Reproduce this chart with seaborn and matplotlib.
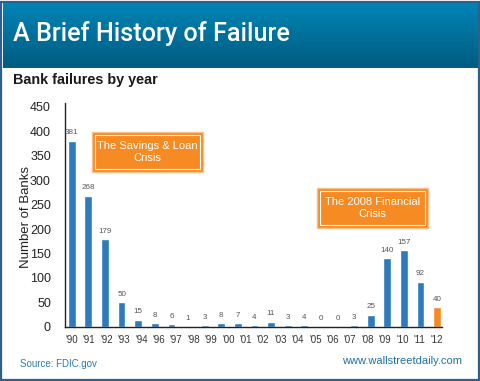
import numpy as np
import pandas as pd
import matplotlib.pyplot as plt
import seaborn as sns
from matplotlib.patches import Rectangle

# Data (FDIC bank failures, 1990-2012)
years = [str(y) for y in range(1990, 2013)]
failures = [381, 268, 179, 50, 15, 8, 6, 1, 3, 8, 7, 4, 11, 3, 4, 0, 0, 3, 25, 140, 157, 92, 40]
# the source chart's axis labels skip '95, so 22 labels sit under 23 bars
tick_labels = ["'90", "'91", "'92", "'93", "'94", "'96", "'97", "'98", "'99", "'00", "'01",
               "'02", "'03", "'04", "'05", "'06", "'07", "'08", "'09", "'10", "'11", "'12"]
bar_group = ['past'] * 22 + ['ytd']

BLUE = '#2d7bbd'
ORANGE = '#f58b22'

df = pd.DataFrame({'year': years, 'failures': failures, 'group': bar_group})

sns.set_style('white')
plt.rcParams['font.family'] = ['Liberation Sans', 'DejaVu Sans']

fig = plt.figure(figsize=(4.8, 3.81), dpi=100)

# header banner with vertical gradient
bax = fig.add_axes([0.006, 0.822, 0.988, 0.170])
grad = np.linspace(0, 1, 100).reshape(-1, 1)
top = np.array([0, 132, 182]) / 255
bot = np.array([0, 92, 128]) / 255
img = top + (bot - top) * grad[..., None]
bax.imshow(img, aspect='auto', extent=[0, 1, 0, 1], origin='upper')
bax.set_axis_off()
fig.text(0.027, 0.911, 'A Brief History of Failure', color='white', fontsize=18.2,
         fontweight='medium', family=['Roboto', 'DejaVu Sans'], va='center', ha='left')
fig.text(0.027, 0.789, 'Bank failures by year', color='#1a1a1a', fontsize=10.4,
         fontweight='bold', va='center', ha='left')

# outer frame
fig.add_artist(Rectangle((0.002, 0.003), 0.995, 0.993, transform=fig.transFigure,
                         fill=False, edgecolor='#2f5f8c', linewidth=1.6))

ax = fig.add_axes([0.135, 0.142, 0.786, 0.588])
sns.barplot(data=df, x='year', y='failures', hue='group',
            palette={'past': BLUE, 'ytd': ORANGE}, width=0.47, dodge=False,
            legend=False, ax=ax, saturation=1)

for i, v in enumerate(failures):
    ax.text(i, v + 9, str(v), ha='center', va='bottom', fontsize=5.8, color='#555555')

ax.set_xlim(-0.42, 22.3)
ax.set_ylim(0, 458)
ax.set_yticks(range(0, 451, 50))
ax.set_xticks(np.linspace(0, 22, len(tick_labels)))
ax.set_xticklabels(tick_labels, fontsize=7, color='#333333')
ax.tick_params(axis='y', labelsize=9, length=0, pad=10, labelcolor='#222222')
ax.tick_params(axis='x', length=0, pad=6)
ax.set_xlabel('')
ax.set_ylabel('Number of Banks', fontsize=9.5, color='#222222')
ax.yaxis.set_label_coords(-0.088, 0.49)
for s in ['top', 'right']:
    ax.spines[s].set_visible(False)
for s in ['left', 'bottom']:
    ax.spines[s].set_color('#222222')
    ax.spines[s].set_linewidth(1.0)


def crisis_box(x0, y0, w, h, label):
    fig.add_artist(Rectangle((x0, y0), w, h, transform=fig.transFigure,
                             facecolor=ORANGE, edgecolor='#f9c08a', linewidth=1.0))
    fig.add_artist(Rectangle((x0 + 0.006, y0 + 0.008), w - 0.012, h - 0.016,
                             transform=fig.transFigure, fill=False,
                             edgecolor='white', linewidth=0.8))
    fig.text(x0 + w / 2, y0 + h / 2, label, color='white', fontsize=8,
             ha='center', va='center', linespacing=1.3)


crisis_box(0.192, 0.548, 0.231, 0.105, 'The Savings & Loan\nCrisis')
crisis_box(0.660, 0.402, 0.231, 0.105, 'The 2008 Financial\nCrisis')

# footer
fig.text(0.042, 0.045, 'Source: FDIC.gov', color='#2a7cab', fontsize=7, va='center')
fig.text(0.962, 0.052, 'www.wallstreetdaily.com', color='#1f6f9e', fontsize=8,
         va='center', ha='right')

fig.savefig('out.png', dpi=100)
